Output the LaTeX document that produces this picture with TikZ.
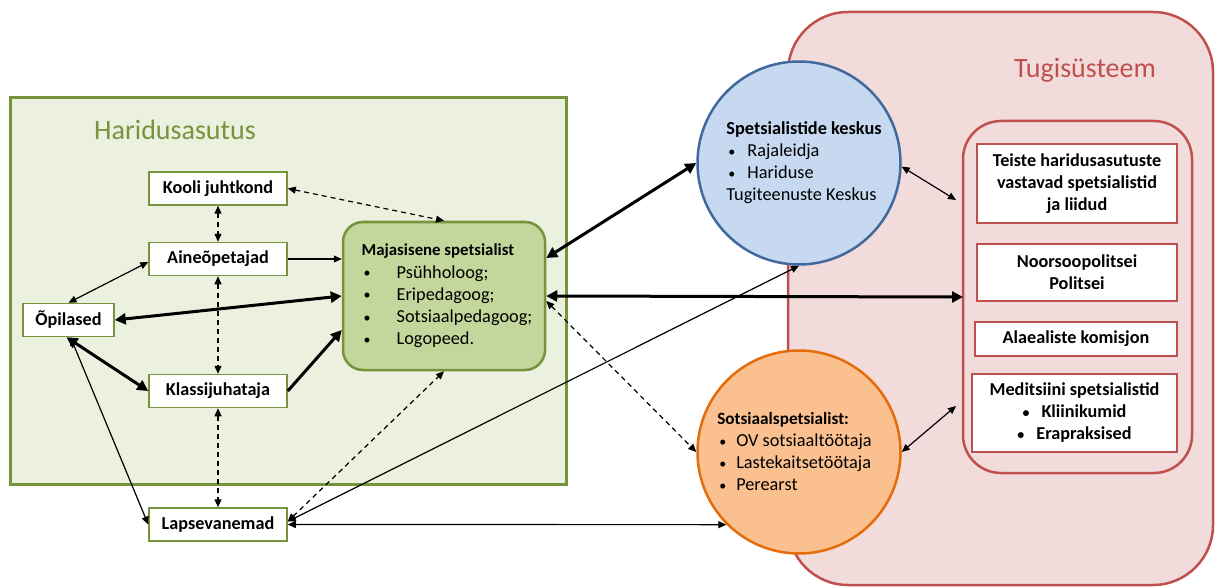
\documentclass[tikz,border=0pt]{standalone}
\usepackage{fontspec}
\setmainfont{Carlito}
\usetikzlibrary{arrows.meta,calc}
\definecolor{grn}{HTML}{77933C}
\definecolor{grnfill}{HTML}{EBF1DE}
\definecolor{grnbox}{HTML}{C3D69B}
\definecolor{bluefill}{HTML}{C6D9F1}
\definecolor{blueline}{HTML}{41699C}
\definecolor{orfill}{HTML}{FAC090}
\definecolor{orline}{HTML}{E46C0A}
\definecolor{pinkfill}{HTML}{F2DCDB}
\definecolor{redline}{HTML}{C0504D}
\newcommand{\mybul}{\raisebox{0.6pt}{\fontsize{14}{14}\selectfont\textbullet}}
\tikzset{
  gbox/.style={draw=grn, fill=white, line width=1.5pt, minimum width=138pt, minimum height=33pt, inner sep=2pt, font=\fontsize{18.2}{21}\selectfont\bfseries},
  rbox/.style={draw=redline, fill=white, line width=1.2pt, inner sep=2pt, align=center, font=\fontsize{18.2}{22}\selectfont\bfseries},
  thin/.style={line width=1.2pt, {Triangle[length=8pt,width=7pt]}-{Triangle[length=8pt,width=7pt]}},
  thinone/.style={line width=1.2pt, -{Triangle[length=8pt,width=7pt]}},
  thick/.style={line width=3pt, {Triangle[length=11pt,width=11pt]}-{Triangle[length=11pt,width=11pt]}},
  thickone/.style={line width=3pt, -{Triangle[length=11pt,width=11pt]}},
  dsh/.style={line width=1.2pt, dash pattern=on 5pt off 4pt, {Triangle[length=8pt,width=7pt]}-{Triangle[length=8pt,width=7pt]}}
}
\begin{document}
\begin{tikzpicture}[x=1pt,y=-1pt]
\useasboundingbox (0,0) rectangle (1215,588);
\clip (0,0) rectangle (1215,588);
% support system background
\path[draw=redline, fill=pinkfill, line width=2.5pt, rounded corners=60pt] (788,12) rectangle (1213,585);
\node[text=redline, font=\fontsize{28}{32}\selectfont] (tt) at (1085,70) {Tugisüsteem};
\path[draw=redline, fill=pinkfill, line width=2.5pt, rounded corners=38pt] (963,121) rectangle (1192,473);
\coordinate (irw) at (963,297);
\coordinate (ira) at (956,200);
\coordinate (irb) at (956,406);
% education institution
\path[draw=grn, fill=grnfill, line width=3pt] (10,98) rectangle (566,484);
\node[text=grn, font=\fontsize{28}{32}\selectfont] (ht) at (175,130) {Haridusasutus};

\node[gbox] (kj) at (218,188.5) {Kooli juhtkond};
\node[gbox] (ae) at (218,259) {Aineõpetajad};
\node[gbox, minimum width=91pt] (op) at (68.5,320) {Õpilased};
\node[gbox] (kl) at (218,391) {Klassijuhataja};
\node[gbox] (lv) at (218,524.5) {Lapsevanemad};

\node[draw=grn, fill=grnbox, line width=2.5pt, rounded corners=20pt, minimum width=202pt, minimum height=148pt, align=left, inner sep=0pt,
  font=\fontsize{18.3}{22.3}\selectfont] (ms) at (444,296)
  {\hspace*{6pt}{\fontsize{16.8}{20}\selectfont\bfseries Majasisene spetsialist}\\
   \hspace*{6pt}\makebox[35pt][l]{\hspace{2pt}\mybul}Psühholoog;\\
   \hspace*{6pt}\makebox[35pt][l]{\hspace{2pt}\mybul}Eripedagoog;\\
   \hspace*{6pt}\makebox[35pt][l]{\hspace{2pt}\mybul}Sotsiaalpedagoog;\\
   \hspace*{6pt}\makebox[35pt][l]{\hspace{2pt}\mybul}Logopeed.};

% circles
\node[circle, draw=blueline, fill=bluefill, line width=2.5pt, minimum size=203pt, inner sep=0pt, align=left,
  font=\fontsize{18.3}{22}\selectfont] (sk) at (799,163)
  {\hspace*{10pt}\textbf{Spetsialistide keskus}\\
   \hspace*{10pt}\makebox[21pt][l]{\hspace{2pt}\mybul}Rajaleidja\\
   \hspace*{10pt}\makebox[21pt][l]{\hspace{2pt}\mybul}Hariduse\\
   \hspace*{10pt}Tugiteenuste Keskus};
\node[circle, draw=orline, fill=orfill, line width=2.5pt, minimum size=203pt, inner sep=0pt, align=left,
  font=\fontsize{18.3}{22}\selectfont] (so) at (799,452)
  {{\fontsize{17.2}{20}\selectfont\bfseries Sotsiaalspetsialist:}\\
   \makebox[19pt][l]{\hspace{2pt}\mybul}OV sotsiaaltöötaja\hspace*{9pt}\null\\
   \makebox[19pt][l]{\hspace{2pt}\mybul}Lastekaitsetöötaja\\
   \makebox[19pt][l]{\hspace{2pt}\mybul}Perearst};

% support boxes
\node[rbox, minimum width=200pt, minimum height=79pt] (tb1) at (1077,183.5)
  {Teiste haridusasutuste\\vastavad spetsialistid\\ja liidud};
\node[rbox, minimum width=200pt, minimum height=57pt] (tb2) at (1077,272.5)
  {Noorsoopolitsei\\Politsei};
\node[rbox, minimum width=202pt, minimum height=34pt] (tb3) at (1076,339)
  {Alaealiste komisjon};
\node[rbox, minimum width=205pt, minimum height=78pt] (tb4) at (1074.5,413)
  {Meditsiini spetsialistid\\\mybul\hspace{12pt}Kliinikumid\\\mybul\hspace{12pt}Erapraksised};

% connectors
\draw[dsh] (kj.east) -- (ms.north);
\draw[dsh] (kj.south) -- (ae.north);
\draw[thinone] (ae.east) -- (ae.east -| ms.west);
\draw[thin] (op.north) -- ([yshift=-3pt]ae.west);
\draw[dsh] (ae.south) -- (kl.north);
\draw[thick] (op.east) -- (ms.west);
\draw[thick] ([xshift=-2pt]op.south) -- (kl.west);
\draw[thickone] (kl.east) -- ([yshift=-34pt]ms.west);
\draw[thin] ([xshift=2pt]op.south) -- (lv.west);
\draw[dsh] (kl.south) -- (lv.north);
\draw[dsh] ([yshift=3pt]lv.east) -- (ms.south);
\draw[thin] ([yshift=3pt]lv.east) -- (sk.south);
\draw[thin] (lv.east) -- (so.225);
\draw[thick] ([yshift=38pt]ms.east) -- (sk.west);
\draw[thick] (ms.east) -- (irw);
\draw[dsh] ([yshift=-5pt]ms.east) -- (so.west);
\draw[thin] (sk.358) -- (ira);
\draw[thin] (so.east) -- (irb);
\end{tikzpicture}
\end{document}
